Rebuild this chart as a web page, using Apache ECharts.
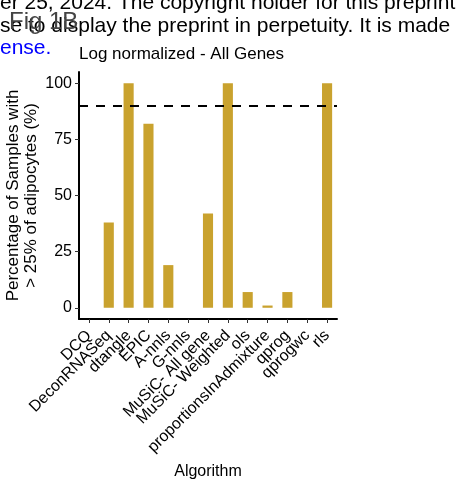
<!DOCTYPE html>
<html>
<head>
<meta charset="utf-8">
<script src="https://cdn.jsdelivr.net/npm/echarts@6/dist/echarts.min.js"></script>
<style>html,body{margin:0;padding:0;background:#fff}#c{width:473px;height:486px}</style>
</head>
<body>
<div id="c"></div>
<script>
var categories = ["DCQ","DeconRNASeq","dtangle","EPIC","A-nnls","G-nnls","MuSiC- All gene","MuSiC- Weighted","ols","proportionsInAdmixture","qprog","qprogwc","rls"];
var values = [0, 38, 100, 82, 19, 0, 42, 100, 7, 1, 7, 0, 100];
var yTicks = [0, 25, 50, 75, 100];
var threshold = 90;

var chart = echarts.init(document.getElementById('c'), null, {renderer: 'canvas'});
var font = '"Liberation Sans", Arial, sans-serif';
function f(sz) { return sz + 'px "Liberation Sans", Arial, sans-serif'; }
chart.setOption({
  animation: false,
  backgroundColor: '#fff',
  title: {
    text: 'Log normalized - All Genes',
    left: 74, top: 41,
    textStyle: {fontFamily: font, fontSize: 17, fontWeight: 'normal', color: '#000'}
  },
  grid: {left: 79, right: 136, top: 72, bottom: 167, containLabel: false, outerBoundsMode: 'none'},
  xAxis: {
    type: 'category',
    data: categories,
    name: 'Algorithm',
    nameLocation: 'middle',
    nameGap: 145,
    nameMoveOverlap: false,
    nameTextStyle: {fontFamily: font, fontSize: 16, color: '#000'},
    axisLine: {onZero: false, lineStyle: {color: '#000', width: 2}},
    axisTick: {show: true, alignWithLabel: true, length: 4, lineStyle: {color: '#333', width: 1}},
    axisLabel: {rotate: 45, interval: 0, fontFamily: font, fontSize: 16, color: '#000', margin: 14},
    splitLine: {show: false}
  },
  yAxis: {
    type: 'value',
    min: -5, max: 105,
    name: 'Percentage of Samples with\n> 25% of adipocytes (%)',
    nameLocation: 'middle',
    nameGap: 39,
    nameMoveOverlap: false,
    nameTextStyle: {fontFamily: font, fontSize: 17, color: '#000', lineHeight: 18},
    axisLine: {show: true, lineStyle: {color: '#000', width: 2}},
    axisTick: {show: true, length: 4, customValues: yTicks, lineStyle: {color: '#333', width: 1}},
    axisLabel: {customValues: yTicks, fontFamily: font, fontSize: 16, color: '#000', margin: 7},
    splitLine: {show: false}
  },
  series: [{
    type: 'bar',
    data: values,
    barWidth: '51%',
    itemStyle: {color: '#C9A22E'},
    markLine: {
      symbol: ['none', 'none'],
      silent: true,
      label: {show: false},
      lineStyle: {color: '#000', type: [9, 8], width: 2},
      data: [{yAxis: threshold}]
    }
  }],
  graphic: [
    {type: 'text', left: 0, top: -7, style: {text: 'er 25, 2024. The copyright holder for this preprint', font: f(21), fill: '#000'}},
    {type: 'text', left: 0, top: 16, style: {text: 'se to display the preprint in perpetuity. It is made', font: f(21), fill: '#000'}},
    {type: 'text', left: 0, top: 38, style: {text: 'ense.', font: f(21), fill: '#0000ff'}},
    {type: 'text', left: 9, top: 10, style: {text: 'Fig 1B', font: f(24), fill: '#444'}}
  ]
});
</script>
</body>
</html>
